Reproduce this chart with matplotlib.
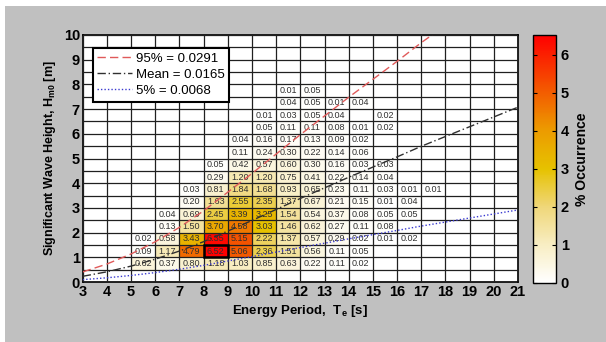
import numpy as np
import matplotlib
matplotlib.use('Agg')
import matplotlib.pyplot as plt
from matplotlib.colors import LinearSegmentedColormap
from matplotlib.patches import Rectangle

plt.rcParams['font.family'] = ['Liberation Sans', 'DejaVu Sans']
plt.rcParams['mathtext.fontset'] = 'custom'
plt.rcParams['mathtext.rm'] = 'Liberation Sans:bold'
plt.rcParams['mathtext.default'] = 'rm'

# bin edges
te_edges = np.arange(3, 22, 1)
hm0_edges = np.arange(0, 10.5, 0.5)

# % occurrence, rows = Hm0 bins (0-0.5 upward), columns = Te bins (3-4 ... 20-21)
_ = np.nan
occurrence = [
    [_, _, _,    _,    _,    _,    _,    _,    _,    _,    _,    _,    _,    _,    _,    _, _, _],
    [_, _, 0.62, 0.37, 0.80, 1.18, 1.03, 0.85, 0.63, 0.22, 0.11, 0.02, _,    _,    _,    _, _, _],
    [_, _, 0.09, 1.17, 4.79, 6.52, 5.06, 2.36, 1.51, 0.56, 0.11, 0.05, _,    _,    _,    _, _, _],
    [_, _, 0.02, 0.58, 3.43, 6.35, 5.15, 2.22, 1.37, 0.57, 0.29, 0.02, 0.01, 0.02, _,    _, _, _],
    [_, _, _,    0.13, 1.50, 3.70, 4.58, 3.03, 1.46, 0.62, 0.27, 0.11, 0.08, _,    _,    _, _, _],
    [_, _, _,    0.04, 0.69, 2.45, 3.39, 3.25, 1.54, 0.54, 0.37, 0.08, 0.05, 0.05, _,    _, _, _],
    [_, _, _,    _,    0.20, 1.63, 2.55, 2.35, 1.37, 0.67, 0.21, 0.15, 0.01, 0.04, _,    _, _, _],
    [_, _, _,    _,    0.03, 0.81, 1.84, 1.68, 0.93, 0.65, 0.23, 0.11, 0.03, 0.01, 0.01, _, _, _],
    [_, _, _,    _,    _,    0.29, 1.20, 1.20, 0.75, 0.41, 0.22, 0.14, 0.04, _,    _,    _, _, _],
    [_, _, _,    _,    _,    0.05, 0.42, 0.57, 0.60, 0.30, 0.16, 0.03, 0.03, _,    _,    _, _, _],
    [_, _, _,    _,    _,    _,    0.11, 0.24, 0.30, 0.22, 0.14, 0.06, _,    _,    _,    _, _, _],
    [_, _, _,    _,    _,    _,    0.04, 0.16, 0.17, 0.13, 0.09, 0.02, _,    _,    _,    _, _, _],
    [_, _, _,    _,    _,    _,    _,    0.05, 0.11, 0.11, 0.08, 0.01, 0.02, _,    _,    _, _, _],
    [_, _, _,    _,    _,    _,    _,    0.01, 0.03, 0.05, 0.04, _,    0.02, _,    _,    _, _, _],
    [_, _, _,    _,    _,    _,    _,    _,    0.04, 0.05, 0.01, 0.04, _,    _,    _,    _, _, _],
    [_, _, _,    _,    _,    _,    _,    _,    0.01, 0.05, _,    _,    _,    _,    _,    _, _, _],
    [_, _, _,    _,    _,    _,    _,    _,    _,    _,    _,    _,    _,    _,    _,    _, _, _],
    [_, _, _,    _,    _,    _,    _,    _,    _,    _,    _,    _,    _,    _,    _,    _, _, _],
    [_, _, _,    _,    _,    _,    _,    _,    _,    _,    _,    _,    _,    _,    _,    _, _, _],
    [_, _, _,    _,    _,    _,    _,    _,    _,    _,    _,    _,    _,    _,    _,    _, _, _],
]

# steepness lines: Hm0 = steepness * wavelength(Te), wavelength
line_te = [3, 4, 5, 6, 7, 8, 9, 10, 11, 12, 13, 14, 15, 16, 17, 18, 19, 20, 21]
line_wavelength = [14, 25, 39, 56, 76, 99, 125, 151, 178, 205, 231, 257, 282, 307, 333, 357, 381, 405, 429]
steep_labels = ['95% = 0.0291', 'Mean = 0.0165', '5% = 0.0068']
steep_values = [0.0291, 0.0165, 0.0068]
steep_styles = [('#e05a5a', (0, (6, 3))), ('#303030', (0, (6, 2, 1, 2))), ('#3a3ad0', (0, (1, 1.5)))]

occ = np.ma.masked_invalid(np.array(occurrence))

cmap = LinearSegmentedColormap.from_list('occ', [
    (0.00, '#ffffff'), (0.15, '#f8eec4'), (0.31, '#efd677'), (0.46, '#e6c200'),
    (0.62, '#ec9a00'), (0.77, '#f35c00'), (1.00, '#ff0000')])

fig = plt.figure(figsize=(6.06, 3.42), dpi=100, facecolor='#c0c0c0')
fig.patches.append(Rectangle((0, 1 - 6 / 342), 1, 6 / 342, transform=fig.transFigure,
                             facecolor='white', edgecolor='none', zorder=-1))
fig.patches.append(Rectangle((0, 0), 5 / 606, 1, transform=fig.transFigure,
                             facecolor='white', edgecolor='none', zorder=-1))

ax = fig.add_axes([82.7 / 606, 1 - 282 / 342, (518 - 82.7) / 606, (282 - 35) / 342])
mesh = ax.pcolormesh(te_edges, hm0_edges, occ, cmap=cmap, vmin=0, vmax=6.52)

# cell labels
for i in range(occ.shape[0]):
    for j in range(occ.shape[1]):
        if not occ.mask[i, j]:
            ax.text(te_edges[j] + 0.5, hm0_edges[i] + 0.25, '%.2f' % occ[i, j],
                    ha='center', va='center', fontsize=6.5, color='#303030', zorder=3)

# max cell outline
imax, jmax = np.unravel_index(np.argmax(occ.filled(-1)), occ.shape)
ax.add_patch(Rectangle((te_edges[jmax], hm0_edges[imax]), 1, 0.5, fill=False,
                       edgecolor='black', lw=1.8, zorder=3.5))

# steepness lines
for lab, s, (col, ls) in zip(steep_labels, steep_values, steep_styles):
    ax.plot(line_te, s * np.array(line_wavelength), color=col, linestyle=ls, lw=1.0,
            label=lab, zorder=4)

ax.set_xlim(3, 21)
ax.set_ylim(0, 10)
ax.set_xticks(range(3, 22))
ax.set_yticks(range(0, 11))
ax.set_yticks(hm0_edges, minor=True)
ax.set_axisbelow(False)
ax.grid(which='both', color='#202020', lw=0.9)
ax.tick_params(which='both', direction='in', length=0)
ax.tick_params(labelsize=10.5, pad=2)
for t in ax.get_xticklabels() + ax.get_yticklabels():
    t.set_fontweight('bold')
for sp in ax.spines.values():
    sp.set_linewidth(1.2)

ax.set_xlabel('Energy Period,  $T_e$ [s]', fontsize=9.5, fontweight='bold', labelpad=3)
ax.set_ylabel('Significant Wave Height, $H_{m0}$ [m]', fontsize=9, fontweight='bold', labelpad=4)

leg = ax.legend(loc='upper left', bbox_to_anchor=(0.005, 0.98), fontsize=9.5,
                frameon=True, fancybox=False, handlelength=2.6, handletextpad=0.3,
                borderpad=0.35, labelspacing=0.3, borderaxespad=0.6)
leg.get_frame().set_edgecolor('black')
leg.get_frame().set_linewidth(1.5)
leg.get_frame().set_alpha(1)
leg.set_zorder(6)

cax = fig.add_axes([533 / 606, 1 - 283 / 342, 23 / 606, 248 / 342])
cb = fig.colorbar(mesh, cax=cax)
cb.set_ticks(range(0, 7))
cb.ax.tick_params(direction='in', length=3, width=0.8, labelsize=10.5, left=True, right=True)
for t in cb.ax.get_yticklabels():
    t.set_fontweight('bold')
cb.outline.set_linewidth(1.0)
cb.set_label('% Occurrence', fontsize=10, fontweight='bold', labelpad=4)

fig.savefig('out.png', dpi=100, facecolor=fig.get_facecolor())
